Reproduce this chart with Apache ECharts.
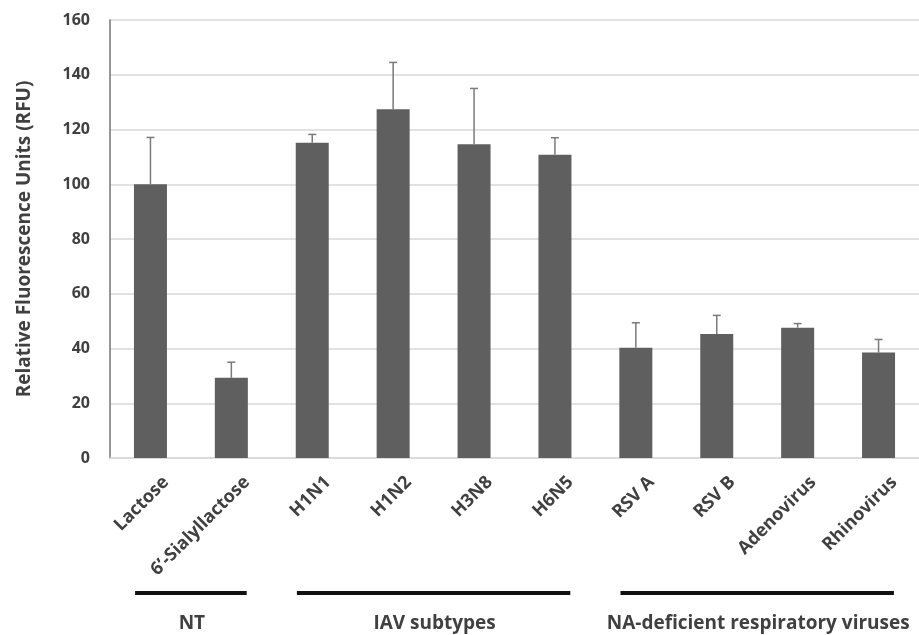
<!DOCTYPE html>
<html>
<head>
<meta charset="utf-8">
<script src="https://cdn.jsdelivr.net/npm/echarts@6/dist/echarts.min.js"></script>
<style>
  html, body { margin: 0; padding: 0; background: #fff; }
  #main { width: 919px; height: 635px; }
</style>
</head>
<body>
<div id="main"></div>
<script>
// Sample categories, mean RFU and upper error (SD)
const categories = ['Lactose', '6\u2019-Sialyllactose', 'H1N1', 'H1N2', 'H3N8', 'H6N5',
                    'RSV A', 'RSV B', 'Adenovirus', 'Rhinovirus'];
const meanRFU = [100, 29.3, 115.2, 127.4, 114.6, 110.8, 40.3, 45.3, 47.6, 38.5];
const errRFU  = [17.1, 5.7, 3.0, 17.1, 20.4, 6.2, 9.1, 6.8, 1.5, 4.8];

// Category groups: first and last category index of each bracket
const groupNames = ['NT', 'IAV subtypes', 'NA-deficient respiratory viruses'];
const groupStart = [0, 2, 6];
const groupEnd   = [1, 5, 9];

const yTicks = [0, 20, 40, 60, 80, 100, 120, 140, 160];

const FONT = '"Open Sans", "Liberation Sans", sans-serif';
const TEXT = '#404040';

const chart = echarts.init(document.getElementById('main'));

const errData = meanRFU.map((m, i) => [i, m, m + errRFU[i]]);
const groupData = groupNames.map((n, i) => ({ name: n, value: [groupStart[i], groupEnd[i]] }));

chart.setOption({
  animation: false,
  backgroundColor: '#ffffff',
  grid: { left: 110, right: -11, top: 20, bottom: 177 },
  xAxis: {
    type: 'category',
    data: categories,
    axisTick: { show: false },
    axisLine: { show: true, lineStyle: { color: '#d9d9d9', width: 1.5 } },
    axisLabel: {
      interval: 0,
      rotate: 45,
      margin: 37,
      padding: [0, -22, 0, 0],
      fontFamily: FONT,
      fontWeight: 'bold',
      fontSize: 18,
      color: TEXT
    }
  },
  yAxis: {
    type: 'value',
    min: yTicks[0],
    max: yTicks[yTicks.length - 1],
    interval: yTicks[1] - yTicks[0],
    name: 'Relative Fluorescence Units (RFU)',
    nameLocation: 'middle',
    nameGap: 76,
    nameTextStyle: { fontFamily: FONT, fontWeight: 'bold', fontSize: 19, color: TEXT },
    axisLine: { show: true, lineStyle: { color: '#767676', width: 1.5 } },
    axisTick: { show: false },
    splitLine: { lineStyle: { color: '#d9d9d9', width: 1.5 } },
    axisLabel: { margin: 20, fontFamily: FONT, fontWeight: 'bold', fontSize: 16, color: TEXT }
  },
  series: [
    {
      type: 'bar',
      data: meanRFU,
      barWidth: 33,
      itemStyle: { color: '#5f5f5f' },
      z: 2
    },
    {
      // upper error bars with caps
      type: 'custom',
      data: errData,
      z: 3,
      renderItem: function (params, api) {
        const i = api.value(0);
        const base = api.coord([i, api.value(1)]);
        const top = api.coord([i, api.value(2)]);
        const half = 4;
        const style = { stroke: '#7a7a7a', lineWidth: 1.5 };
        return {
          type: 'group',
          children: [
            { type: 'line', shape: { x1: base[0], y1: base[1], x2: top[0], y2: top[1] }, style: style },
            { type: 'line', shape: { x1: top[0] - half, y1: top[1], x2: top[0] + half, y2: top[1] }, style: style }
          ]
        };
      }
    },
    {
      // bracket lines and group titles under the category labels
      type: 'custom',
      data: groupData,
      clip: false,
      z: 3,
      renderItem: function (params, api) {
        const s = api.value(0);
        const e = api.value(1);
        const band = api.size([1, 0])[0];
        const p0 = api.coord([s, 0]);
        const p1 = api.coord([e, 0]);
        const x1 = p0[0] - 0.19 * band;
        const x2 = p1[0] + 0.19 * band;
        const yLine = p0[1] + 135;
        const yText = p0[1] + 166;
        return {
          type: 'group',
          children: [
            { type: 'line', shape: { x1: x1, y1: yLine, x2: x2, y2: yLine },
              style: { stroke: '#111', lineWidth: 4 } },
            { type: 'text', x: (x1 + x2) / 2 + 1, y: yText,
              style: { text: groupNames[params.dataIndex], align: 'center', verticalAlign: 'middle',
                       fontFamily: FONT, fontWeight: 'bold', fontSize: 19, fill: TEXT } }
          ]
        };
      }
    }
  ]
});
</script>
</body>
</html>
